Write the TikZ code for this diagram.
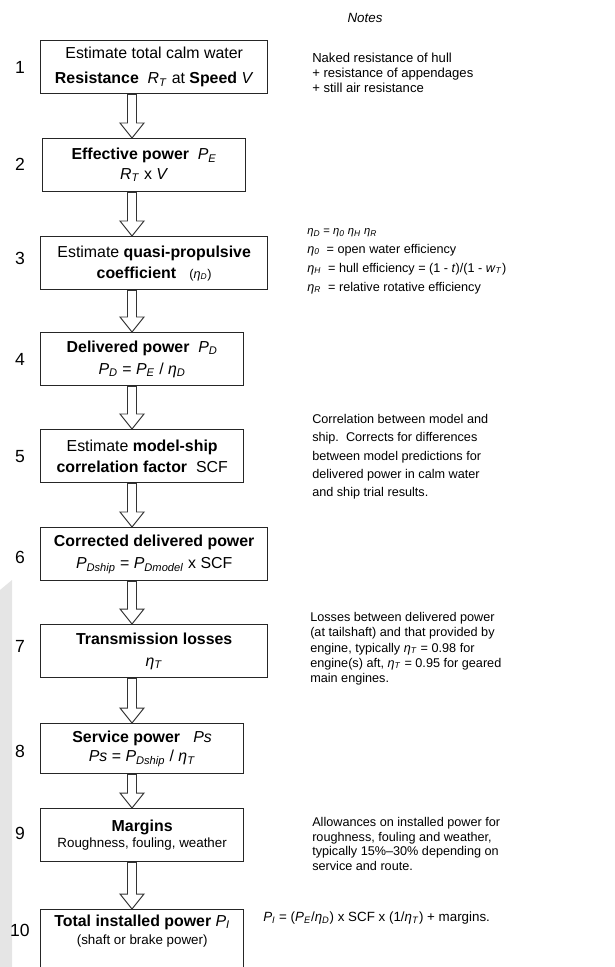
\documentclass[tikz,border=0pt]{standalone}
\usepackage{fontspec}
\setmainfont{Liberation Sans}
\usetikzlibrary{calc}

\newcommand\sym[2]{\textit{#1}\textsubscript{\textit{#2}}}
% block arrow from the bottom of one box to the top of the next
\newcommand\hollowarrow[2]{%
	\draw [flow] ($(#1.south -| axis) + (-4.5,0)$) -- ($(#2.north -| axis) + (-4.5,-15)$)
		-- ++(-7.5,0) -- (#2.north -| axis) -- ++(12,-15) -- ++(-7.5,0)
		-- ($(#1.south -| axis) + (4.5,0)$) -- cycle;}

\begin{document}
\begin{tikzpicture} [x = 0.025cm, y = -0.025cm,
	box/.style = {draw = black!85,
		line width = 0.9pt,
		align = center,
		anchor = north west,
		minimum height = 1.325cm,
		inner sep = 0pt,
		font = \fontsize{11.3}{16}\selectfont},
	wide/.style = {box, minimum width = 5.675cm},
	narrow/.style = {box, minimum width = 5.075cm},
	num/.style = {font = \fontsize{12.5}{14}\selectfont},
	note/.style = {anchor = north west, align = left, inner sep = 0pt},
	flow/.style = {draw = black!80, fill = white, line width = 0.7pt}]

	\useasboundingbox (0,0) rectangle (614,967);
	\fill [black!10] (0,590) -- (12,580) -- (12,967) -- (0,967) -- cycle;

	\coordinate (axis) at (132,0);

	\node (b1) at (40,40) [wide] {Estimate total calm water\\[2pt] \textbf{Resistance}\ \ \sym{R}{T} at \textbf{Speed} \textit{V}};
	\node (b2) at (42,138) [narrow] {\textbf{Effective power}\ \ \sym{P}{E}\\[-2pt] \sym{R}{T} x \textit{V}};
	\node (b3) at (40,236) [wide] {Estimate \textbf{quasi-propulsive}\\[-1pt] \textbf{coefficient}\ \ \ {\fontsize{9}{10}\selectfont(\sym{η}{D})}};
	\node (b4) at (40,332) [narrow] {\textbf{Delivered power}\ \ \sym{P}{D}\\ \sym{P}{D} = \sym{P}{E} / \sym{η}{D}};
	\node (b5) at (40,429) [narrow] {Estimate \textbf{model-ship}\\[-1pt] \textbf{correlation factor}\ \ SCF};
	\node (b6) at (40,527) [wide] {\textbf{Corrected delivered power}\\ \sym{P}{Dship} = \sym{P}{Dmodel} x SCF};
	\node (b7) at (40,624) [wide] {\textbf{Transmission losses}\\ \sym{η}{T}};
	\node (b8) at (40,723) [narrow, minimum height = 1.25cm] {\textbf{Service power}\ \ \ \textit{Ps}\\[-2pt] \textit{Ps} = \sym{P}{Dship} / \sym{η}{T}};
	\node (b9) at (40,808) [narrow] {\textbf{Margins}\\[-5pt] {\fontsize{9.5}{11}\selectfont Roughness, fouling, weather}};
	\node (b10) at (40,909) [narrow, minimum height = 0pt, text depth = 22pt] {\rule{0pt}{12pt}\textbf{Total installed power} \sym{P}{I}\\[-3pt] {\fontsize{9.5}{11}\selectfont (shaft or brake power)}};

	\node (n1) at (20,67) [num] {1};
	\node (n2) at (20,164) [num] {2};
	\node (n3) at (20,258) [num] {3};
	\node (n4) at (20,359) [num] {4};
	\node (n5) at (20,457) [num] {5};
	\node (n6) at (20,557) [num] {6};
	\node (n7) at (20,646) [num] {7};
	\node (n8) at (20,751) [num] {8};
	\node (n9) at (20,833) [num] {9};
	\node (n10) at (20,930) [num] {10};

	\hollowarrow{b1}{b2}
	\hollowarrow{b2}{b3}
	\hollowarrow{b3}{b4}
	\hollowarrow{b4}{b5}
	\hollowarrow{b5}{b6}
	\hollowarrow{b6}{b7}
	\hollowarrow{b7}{b8}
	\hollowarrow{b8}{b9}
	\hollowarrow{b9}{b10}

	\node (notes) at (365,18) [font = \fontsize{9.5}{11}\selectfont\itshape] {Notes};
	\node (t1) at (312,53) [note, font = \fontsize{9.3}{10.4}\selectfont] {Naked resistance of hull\\+ resistance of appendages\\+ still air resistance};
	\node (t3) at (307,228) [note, font = \fontsize{9}{13.5}\selectfont] {{\fontsize{8}{9}\selectfont\sym{η}{D} = \sym{η}{0} \sym{η}{H} \sym{η}{R}}\\
		\sym{η}{0}\ \ = open water efficiency\\
		\sym{η}{H}\ \ = hull efficiency = (1 - \textit{t})/(1 - \sym{w}{T})\\
		\sym{η}{R}\ \ = relative rotative efficiency};
	\node (t5) at (312,414) [note, font = \fontsize{9}{13}\selectfont] {Correlation between model and\\ship.\ \ Corrects for differences\\between model predictions for\\delivered power in calm water\\and ship trial results.};
	\node (t7) at (310,612) [note, font = \fontsize{9}{10.9}\selectfont] {Losses between delivered power\\(at tailshaft) and that provided by\\engine, typically \sym{η}{T} = 0.98 for\\engine(s) aft, \sym{η}{T} = 0.95 for geared\\main engines.};
	\node (t9) at (312,817) [note, font = \fontsize{9}{10.5}\selectfont] {Allowances on installed power for\\roughness, fouling and weather,\\typically 15\%--30\% depending on\\service and route.};
	\node (t10) at (263,918) [anchor = west, inner sep = 0pt, font = \fontsize{9.5}{11}\selectfont] {\sym{P}{I} = (\sym{P}{E}/\sym{η}{D}) x SCF x (1/\sym{η}{T}) + margins.};

\end{tikzpicture}
\end{document}
